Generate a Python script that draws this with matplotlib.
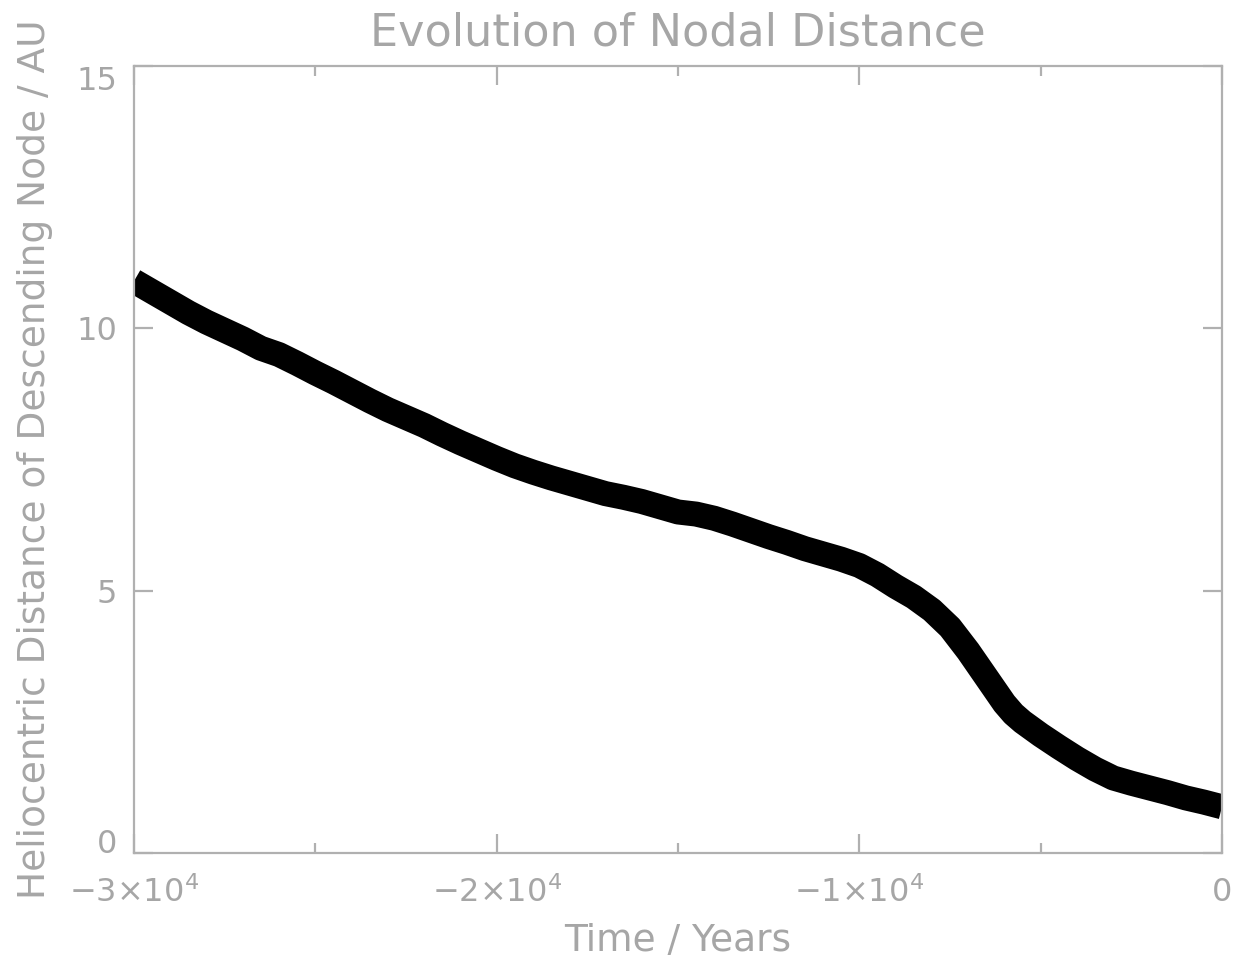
import matplotlib
matplotlib.use("Agg")
import matplotlib.pyplot as plt
from matplotlib.ticker import MultipleLocator

time_yr = [-30000, -29500, -29000, -28500, -28000, -27500, -27000, -26500,
           -26000, -25500, -25000, -24500, -24000, -23500, -23000, -22500,
           -22000, -21500, -21000, -20500, -20000, -19500, -19000, -18500,
           -18000, -17500, -17000, -16500, -16000, -15500, -15000, -14500,
           -14000, -13500, -13000, -12500, -12000, -11500, -11000, -10500,
           -10000, -9500, -9000, -8500, -8000, -7500, -7000, -6750, -6500,
           -6250, -6000, -5750, -5500, -5000, -4500, -4000, -3500, -3000,
           -2500, -2000, -1500, -1000, -500, 0]
dist_au = [10.9, 10.7, 10.5, 10.3, 10.12, 9.96, 9.8, 9.62,
           9.5, 9.33, 9.15, 8.98, 8.8, 8.62, 8.45, 8.3,
           8.15, 7.98, 7.82, 7.67, 7.52, 7.38, 7.26, 7.15,
           7.05, 6.95, 6.85, 6.78, 6.7, 6.6, 6.5, 6.46,
           6.38, 6.27, 6.15, 6.03, 5.92, 5.8, 5.7, 5.6,
           5.48, 5.3, 5.08, 4.88, 4.63, 4.3, 3.85, 3.6, 3.35,
           3.1, 2.85, 2.65, 2.5, 2.25, 2.02, 1.8, 1.6, 1.43,
           1.33, 1.24, 1.15, 1.05, 0.97, 0.88]

x_ticks = [-30000, -20000, -10000, 0]
x_labels = [r"$-3{\times}10^4$", r"$-2{\times}10^4$", r"$-1{\times}10^4$", "0"]
y_ticks = [0, 5, 10, 15]

grey = "#b0b0b0"
txt = "#a6a6a6"

fig = plt.figure(figsize=(12.37, 9.67), dpi=100)
ax = fig.add_axes([0.1083, 0.1179, 0.8796, 0.8138])

ax.plot(time_yr, dist_au, color="black", lw=18,
        solid_capstyle="butt", solid_joinstyle="round")

ax.set_xlim(-30000, 0)
ax.set_ylim(0, 15)

ax.set_xticks(x_ticks)
ax.set_xticklabels(x_labels)
ax.xaxis.set_minor_locator(MultipleLocator(5000))
ax.set_yticks(y_ticks)

for s in ax.spines.values():
    s.set_color(grey)
    s.set_linewidth(1.6)

ax.tick_params(which="both", direction="in", top=True, right=True,
               color=grey, width=1.6, labelcolor=txt)
ax.tick_params(which="major", length=14, labelsize=23)
ax.tick_params(axis="x", which="major", pad=17)
ax.tick_params(axis="y", which="major", pad=12)
ax.tick_params(which="minor", length=7)

labs = ax.get_yticklabels()
labs[0].set_verticalalignment("baseline")
labs[-1].set_verticalalignment("top")

ax.set_title("Evolution of Nodal Distance", fontsize=32, color=txt, pad=15)
ax.set_xlabel("Time / Years", fontsize=27, color=txt, labelpad=10)
ax.set_ylabel("Heliocentric Distance of Descending Node / AU",
              fontsize=27, color=txt, labelpad=17)

fig.savefig("out.png", dpi=100)
